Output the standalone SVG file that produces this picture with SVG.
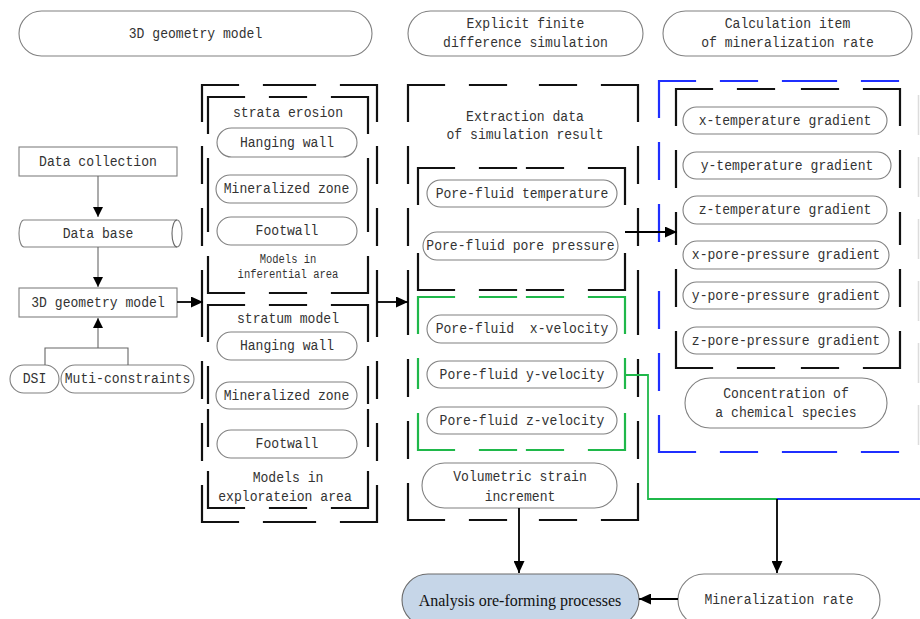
<svg xmlns="http://www.w3.org/2000/svg" width="920" height="619" viewBox="0 0 920 619">
<style>
.pill{fill:#fff;stroke:#808080;stroke-width:1.1}
.t{font-family:"Liberation Mono","DejaVu Sans Mono",monospace;font-size:15.5px;fill:#333;text-anchor:middle;dominant-baseline:central}
.ts{font-size:12.5px}
.bd{fill:none;stroke:#111;stroke-width:2.2;stroke-dasharray:36 26;stroke-linecap:square}
.gd{fill:none;stroke:#1fb84a;stroke-width:2.2;stroke-dasharray:36 26;stroke-linecap:square}
.bu{fill:none;stroke:#1f2fff;stroke-width:2.2;stroke-dasharray:36 26;stroke-linecap:square}
.ln{fill:none;stroke:#666;stroke-width:1.1}
.ar{fill:none;stroke:#000;stroke-width:1.8}
.faint{fill:none;stroke:#dcdcdc;stroke-width:1.5;stroke-dasharray:40 22}
</style>
<defs>
<marker id="ah" markerUnits="userSpaceOnUse" markerWidth="12" markerHeight="11" refX="12" refY="5.5" orient="auto"><path d="M0,0 L12,5.5 L0,11 z" fill="#000"/></marker>
<marker id="as" markerUnits="userSpaceOnUse" markerWidth="10" markerHeight="10" refX="10" refY="5" orient="auto"><path d="M0,0 L10,5 L0,10 z" fill="#000"/></marker>
</defs>
<rect width="920" height="619" fill="#fff"/>

<!-- header pills -->
<g id="h1"><rect class="pill" x="19" y="11" width="353" height="45" rx="22.5"/><text class="t" x="195.5" y="33.5" textLength="133.5" lengthAdjust="spacingAndGlyphs">3D geometry model</text></g>
<g id="h2"><rect class="pill" x="408" y="11" width="235" height="45" rx="22.5"/><text class="t" x="525.5" y="23.5" textLength="117.8" lengthAdjust="spacingAndGlyphs">Explicit finite</text><text class="t" x="525.5" y="43" textLength="164.9" lengthAdjust="spacingAndGlyphs">difference simulation</text></g>
<g id="h3"><rect class="pill" x="663" y="11" width="249" height="45" rx="22.5"/><text class="t" x="787.5" y="23.5" textLength="125.6" lengthAdjust="spacingAndGlyphs">Calculation item</text><text class="t" x="787.5" y="43" textLength="172.7" lengthAdjust="spacingAndGlyphs">of mineralization rate</text></g>

<!-- dashed containers -->
<g id="boxes">
<path class="bd" d="M202 85 H289.5 M377 85 H289.5 M377 85 V303.5 M377 522 V303.5 M377 522 H289.5 M202 522 H289.5 M202 522 V303.5 M202 85 V303.5"/>
<path class="bd" d="M208 97 H288 M368 97 H288 M368 97 V195 M368 293 V195 M368 293 H288 M208 293 H288 M208 293 V195 M208 97 V195"/>
<path class="bd" d="M208 305 H288 M368 305 H288 M368 305 V406.5 M368 508 V406.5 M368 508 H288 M208 508 H288 M208 508 V406.5 M208 305 V406.5"/>
<path class="bd" d="M408 85 H523 M638 85 H523 M638 85 V302.5 M638 520 V302.5 M638 520 H523 M408 520 H523 M408 520 V302.5 M408 85 V302.5"/>
<path class="bd" d="M418 168 H521.5 M625 168 H521.5 M625 168 V229 M625 290 V229 M625 290 H521.5 M418 290 H521.5 M418 290 V229 M418 168 V229"/>
<path class="gd" d="M418 297 H521.5 M625 297 H521.5 M625 297 V373.5 M625 450 V373.5 M625 450 H521.5 M418 450 H521.5 M418 450 V373.5 M418 297 V373.5"/>
<path class="bu" d="M659 81 H800 M659 452 H800 M800 81 H940 M800 452 H940 M659 81 V266.5 M659 452 V266.5"/>
<path class="bd" d="M676 89 H788 M900 89 H788 M900 89 V228.5 M900 368 V228.5 M900 368 H788 M676 368 H788 M676 368 V228.5 M676 89 V228.5"/>
<path class="faint" d="M918.5 95 V445"/>
</g>

<!-- left column nodes -->
<g id="datacollection"><rect class="pill" x="19" y="147" width="158" height="29"/><text class="t" x="98" y="161.5" textLength="117.8" lengthAdjust="spacingAndGlyphs">Data collection</text></g>
<g id="database"><path class="pill" d="M24 220 H177 A5 13.5 0 0 1 177 247 H24 A5 13.5 0 0 1 24 220 Z"/><path class="ln" d="M177 220 A5 13.5 0 0 0 177 247"/><text class="t" x="98" y="233.5" textLength="70.7" lengthAdjust="spacingAndGlyphs">Data base</text></g>
<g id="geom"><rect class="pill" x="19" y="288" width="158" height="29"/><text class="t" x="98" y="302.5" textLength="133.5" lengthAdjust="spacingAndGlyphs">3D geometry model</text></g>
<g id="dsi"><rect class="pill" x="10" y="365" width="49" height="28" rx="14"/><text class="t" x="34.5" y="379" textLength="23.6" lengthAdjust="spacingAndGlyphs">DSI</text></g>
<g id="muti"><rect class="pill" x="61" y="365" width="133" height="28" rx="14"/><text class="t" x="127.5" y="379" textLength="125.6" lengthAdjust="spacingAndGlyphs">Muti-constraints</text></g>

<!-- left boxes -->
<g id="inferential">
<text class="t" x="288" y="113" textLength="110" lengthAdjust="spacingAndGlyphs">strata erosion</text>
<rect class="pill" x="217" y="128" width="140" height="29" rx="14.5"/><text class="t" x="287" y="142.5" textLength="94.2" lengthAdjust="spacingAndGlyphs">Hanging wall</text>
<rect class="pill" x="216" y="175" width="141" height="28" rx="14"/><text class="t" x="286.5" y="189" textLength="125.6" lengthAdjust="spacingAndGlyphs">Mineralized zone</text>
<rect class="pill" x="217" y="217" width="140" height="28" rx="14"/><text class="t" x="287" y="231" textLength="62.8" lengthAdjust="spacingAndGlyphs">Footwall</text>
<text class="t ts" x="288" y="260" textLength="56.7" lengthAdjust="spacingAndGlyphs">Models in</text>
<text class="t ts" x="288" y="275" textLength="100.8" lengthAdjust="spacingAndGlyphs">inferential area</text>
</g>
<g id="exploration">
<text class="t" x="288" y="319" textLength="102" lengthAdjust="spacingAndGlyphs">stratum model</text>
<rect class="pill" x="217" y="332" width="140" height="28" rx="14"/><text class="t" x="287" y="346" textLength="94.2" lengthAdjust="spacingAndGlyphs">Hanging wall</text>
<rect class="pill" x="216" y="382" width="141" height="27" rx="13.5"/><text class="t" x="286.5" y="395.5" textLength="125.6" lengthAdjust="spacingAndGlyphs">Mineralized zone</text>
<rect class="pill" x="217" y="430" width="140" height="28" rx="14"/><text class="t" x="287" y="444" textLength="62.8" lengthAdjust="spacingAndGlyphs">Footwall</text>
<text class="t" x="288" y="478" textLength="70.7" lengthAdjust="spacingAndGlyphs">Models in</text>
<text class="t" x="285" y="497" textLength="133.5" lengthAdjust="spacingAndGlyphs">explorateion area</text>
</g>

<!-- middle column -->
<g id="extraction">
<text class="t" x="525" y="117" textLength="117.8" lengthAdjust="spacingAndGlyphs">Extraction data</text>
<text class="t" x="525" y="135" textLength="157" lengthAdjust="spacingAndGlyphs">of simulation result</text>
</g>
<g id="temp"><rect class="pill" x="427" y="180" width="190" height="27" rx="13.5"/><text class="t" x="522" y="193.5" textLength="172.7" lengthAdjust="spacingAndGlyphs">Pore-fluid temperature</text></g>
<g id="press"><rect class="pill" x="423" y="232" width="195" height="28" rx="14"/><text class="t" x="520.5" y="246" textLength="188.4" lengthAdjust="spacingAndGlyphs">Pore-fluid pore pressure</text></g>
<g id="vx"><rect class="pill" x="427" y="315" width="190" height="28" rx="14"/><text class="t" x="522" y="329" textLength="172.7" lengthAdjust="spacingAndGlyphs" xml:space="preserve">Pore-fluid  x-velocity</text></g>
<g id="vy"><rect class="pill" x="427" y="361" width="190" height="27" rx="13.5"/><text class="t" x="522" y="374.5" textLength="164.9" lengthAdjust="spacingAndGlyphs">Pore-fluid y-velocity</text></g>
<g id="vz"><rect class="pill" x="427" y="407" width="190" height="27" rx="13.5"/><text class="t" x="522" y="420.5" textLength="164.9" lengthAdjust="spacingAndGlyphs">Pore-fluid z-velocity</text></g>
<g id="vol"><rect class="pill" x="422" y="463" width="195" height="45" rx="22.5"/><text class="t" x="520" y="477" textLength="133.5" lengthAdjust="spacingAndGlyphs">Volumetric strain</text><text class="t" x="520" y="496.5" textLength="70.7" lengthAdjust="spacingAndGlyphs">increment</text></g>

<!-- right column -->
<g id="xt"><rect class="pill" x="683" y="107" width="204" height="27" rx="13.5"/><text class="t" x="785" y="120.5" textLength="172.7" lengthAdjust="spacingAndGlyphs">x-temperature gradient</text></g>
<g id="yt"><rect class="pill" x="683" y="152" width="208" height="27" rx="13.5"/><text class="t" x="787" y="165.5" textLength="172.7" lengthAdjust="spacingAndGlyphs">y-temperature gradient</text></g>
<g id="zt"><rect class="pill" x="683" y="196" width="204" height="28" rx="14"/><text class="t" x="785" y="210" textLength="172.7" lengthAdjust="spacingAndGlyphs">z-temperature gradient</text></g>
<g id="xp"><rect class="pill" x="683" y="241" width="206" height="28" rx="14"/><text class="t" x="786" y="255" textLength="188.4" lengthAdjust="spacingAndGlyphs">x-pore-pressure gradient</text></g>
<g id="yp"><rect class="pill" x="683" y="282" width="206" height="27" rx="13.5"/><text class="t" x="786" y="295.5" textLength="188.4" lengthAdjust="spacingAndGlyphs">y-pore-pressure gradient</text></g>
<g id="zp"><rect class="pill" x="683" y="327" width="206" height="27" rx="13.5"/><text class="t" x="786" y="340.5" textLength="188.4" lengthAdjust="spacingAndGlyphs">z-pore-pressure gradient</text></g>
<g id="conc"><rect class="pill" x="685" y="378" width="202" height="50" rx="25"/><text class="t" x="786" y="394" textLength="125.6" lengthAdjust="spacingAndGlyphs">Concentration of</text><text class="t" x="786" y="413" textLength="141.3" lengthAdjust="spacingAndGlyphs">a chemical species</text></g>

<!-- bottom -->
<g id="analysis"><rect x="402" y="574" width="237" height="52" rx="26" fill="#c6d6e8" stroke="#6a6a6a" stroke-width="1.1"/><text x="520" y="600" font-family="'Liberation Serif','Times New Roman',serif" font-size="16" fill="#111" text-anchor="middle" dominant-baseline="central">Analysis ore-forming processes</text></g>
<g id="minrate"><rect class="pill" x="678" y="574" width="202" height="52" rx="26"/><text class="t" x="779" y="600" textLength="149.2" lengthAdjust="spacingAndGlyphs">Mineralization rate</text></g>

<g id="connectors">
<path class="ln" d="M98 176 V217" marker-end="url(#as)"/>
<path class="ln" d="M98 247 V287" marker-end="url(#as)"/>
<path class="ln" d="M45 365 V348 H128 V365"/>
<path class="ln" d="M98 348 V318" marker-end="url(#as)"/>
<path class="ar" d="M177 302 H203" marker-end="url(#ah)"/>
<path class="ar" d="M377 302 H408" marker-end="url(#ah)"/>
<path class="ar" d="M625 232 H677" marker-end="url(#ah)"/>
<path d="M625 375 H648 V499 H777" fill="none" stroke="#1fb84a" stroke-width="1.8"/>
<path d="M777 499 H920" fill="none" stroke="#1f2fff" stroke-width="1.8"/>
<path class="ar" d="M777 499 V573" marker-end="url(#ah)"/>
<path class="ar" d="M519 508 V573" marker-end="url(#ah)"/>
<path class="ar" d="M678 599 H639" marker-end="url(#ah)"/>
</g>
</svg>
